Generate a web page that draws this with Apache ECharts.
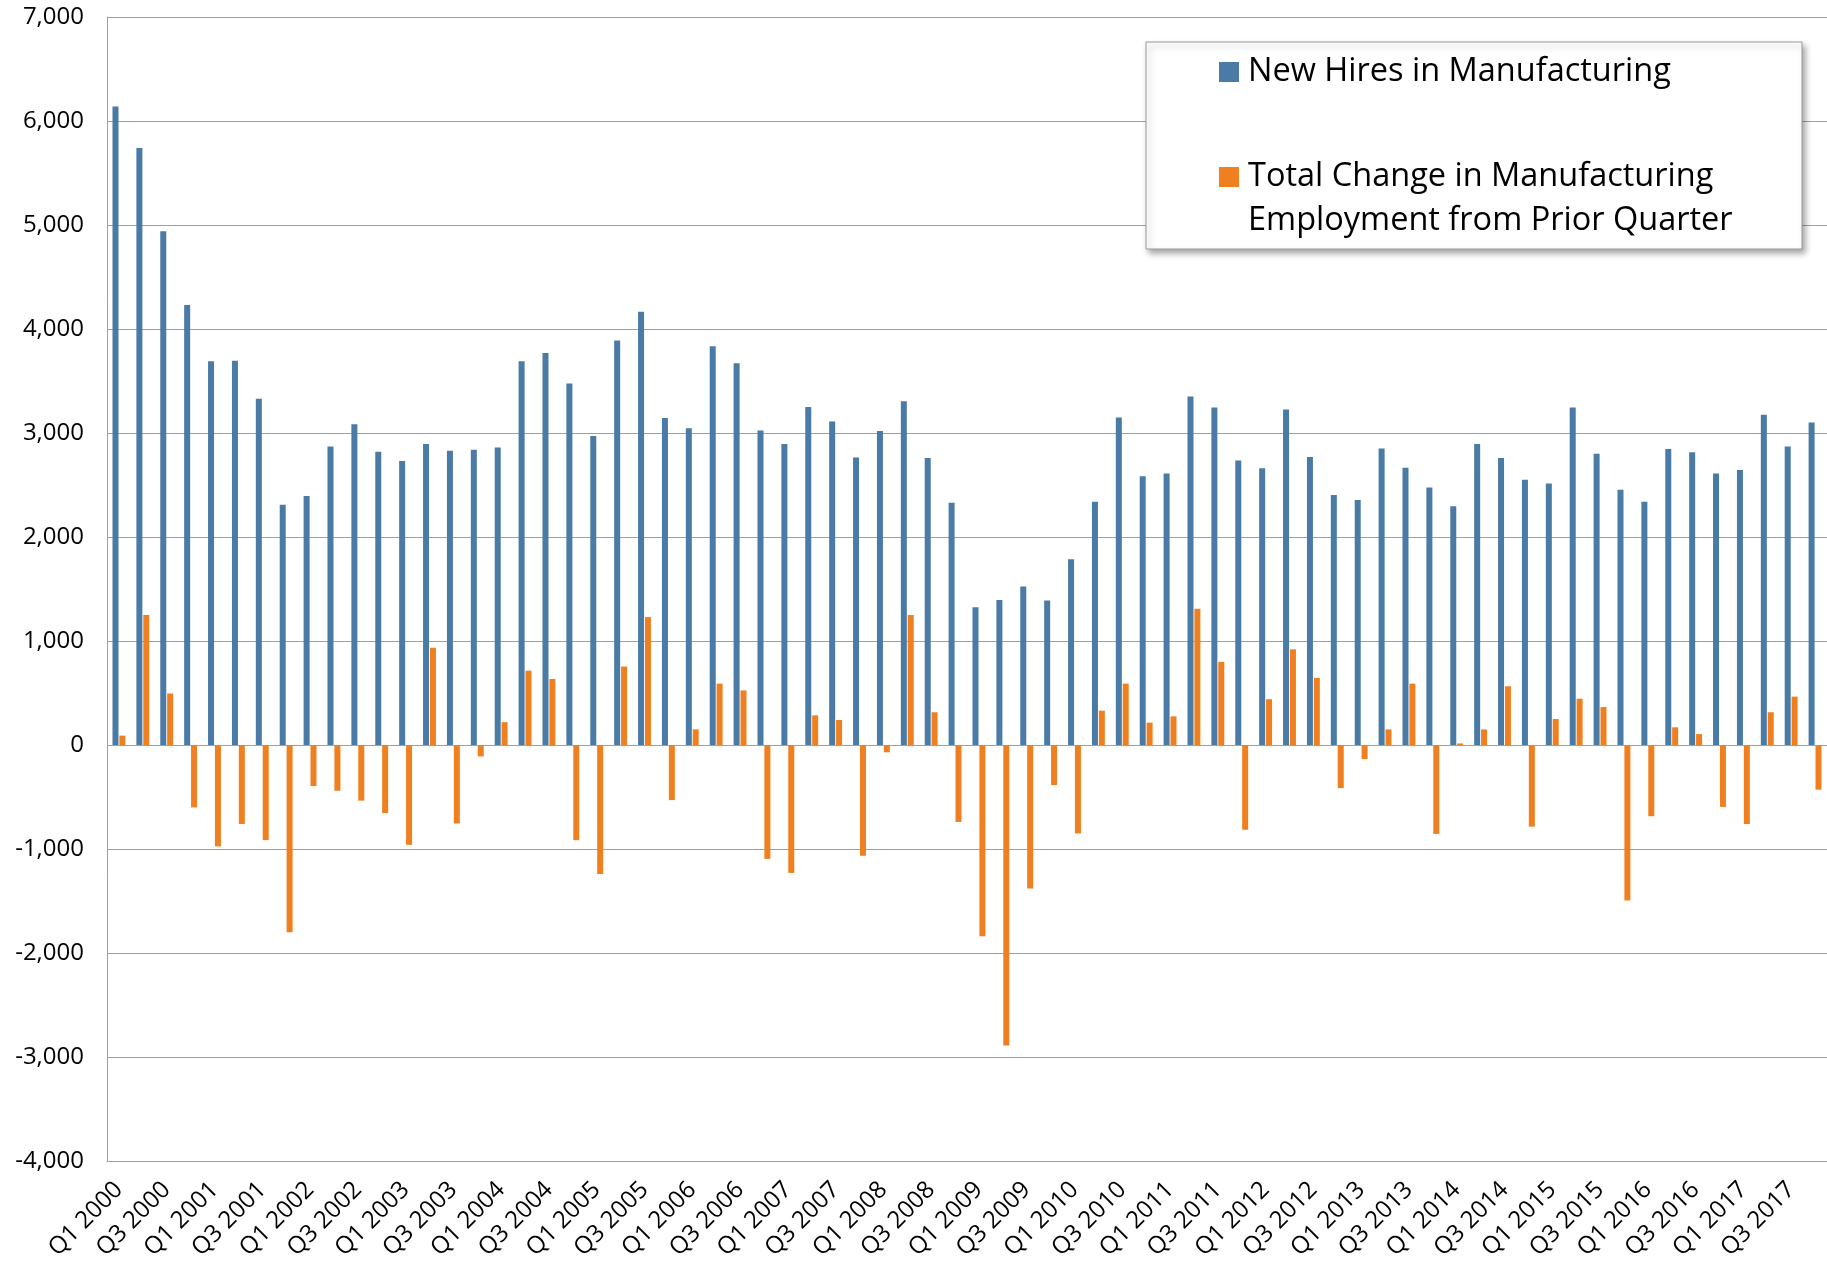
<!DOCTYPE html>
<html>
<head>
<meta charset="utf-8">
<script src="https://cdn.jsdelivr.net/npm/echarts@6/dist/echarts.min.js"></script>
<style>
  html, body { margin: 0; padding: 0; background: #fff; overflow: hidden; }
  #chart { width: 1827px; height: 1263px; }
</style>
</head>
<body>
<div id="chart"></div>
<script>
// quarters Q1 2000 .. Q4 2017
const years = [2000, 2001, 2002, 2003, 2004, 2005, 2006, 2007, 2008,
  2009, 2010, 2011, 2012, 2013, 2014, 2015, 2016, 2017]
const quarters = ['Q1', 'Q2', 'Q3', 'Q4']
const categories = []
years.forEach(y => quarters.forEach(q => categories.push(q + ' ' + y)))

const seriesNames = [
  'New Hires in Manufacturing',
  'Total Change in Manufacturing Employment from Prior Quarter'
]

const newHires = [
  6140, 5740, 4940, 4230, 3690, 3695, 3330, 2310,
  2395, 2870, 3085, 2820, 2730, 2895, 2830, 2840,
  2860, 3690, 3770, 3475, 2970, 3890, 4165, 3145,
  3045, 3835, 3670, 3025, 2895, 3250, 3110, 2765,
  3020, 3305, 2760, 2330, 1325, 1395, 1525, 1390,
  1785, 2340, 3150, 2585, 2610, 3350, 3245, 2735,
  2660, 3225, 2770, 2405, 2355, 2850, 2665, 2475,
  2295, 2895, 2760, 2550, 2515, 3245, 2800, 2455,
  2340, 2845, 2815, 2610, 2645, 3175, 2870, 3100
]

const totalChange = [
  90, 1250, 495, -600, -975, -760, -915, -1800,
  -395, -440, -535, -655, -960, 935, -755, -110,
  220, 715, 635, -915, -1240, 755, 1230, -530,
  150, 590, 525, -1095, -1230, 285, 240, -1065,
  -70, 1250, 315, -740, -1840, -2890, -1380, -385,
  -850, 330, 590, 215, 275, 1310, 800, -815,
  440, 920, 645, -415, -135, 150, 590, -855,
  15, 150, 565, -785, 250, 445, 365, -1495,
  -685, 170, 105, -595, -760, 315, 465, -430
]

const yMin = -4000
const yMax = 7000
const yStep = 1000

const colors = ['#4a7aa6', '#f0801f']
const fontFamily = '"Open Sans", "Liberation Sans", sans-serif'

const chart = echarts.init(document.getElementById('chart'), null, { renderer: 'canvas' })

const option = {
  animation: false,
  backgroundColor: '#ffffff',
  color: colors,
  textStyle: { fontFamily: fontFamily, color: '#000' },
  grid: { left: 107, top: 17, width: 1728, height: 1144 },
  // legend frame
  graphic: [{
    type: 'rect',
    z: 10,
    shape: { x: 1146, y: 42, width: 656, height: 207 },
    style: {
      fill: '#ffffff',
      stroke: '#9a9a9a',
      lineWidth: 1,
      shadowBlur: 6,
      shadowOffsetX: 3,
      shadowOffsetY: 4,
      shadowColor: 'rgba(0,0,0,0.35)'
    }
  }],
  legend: {
    z: 20,
    orient: 'vertical',
    left: 1219,
    top: 50,
    padding: 0,
    itemWidth: 20,
    itemHeight: 20,
    itemGap: 17,
    icon: 'rect',
    selectedMode: false,
    textStyle: { fontFamily: fontFamily, fontSize: 32.5, lineHeight: 44, color: '#000', padding: [0, 0, 0, 4] },
    // blank first line keeps the square level with the first text line
    formatter: name => name === seriesNames[1]
      ? '\nTotal Change in Manufacturing\nEmployment from Prior Quarter'
      : name,
    data: seriesNames
  },
  xAxis: {
    type: 'category',
    data: categories,
    axisLine: { show: true, onZero: false, lineStyle: { color: '#a0a0a0', width: 1 } },
    axisTick: { show: false },
    axisLabel: {
      interval: 1,
      rotate: 45,
      margin: 25,
      fontSize: 24,
      color: '#000',
      fontFamily: fontFamily
    },
    splitLine: { show: false }
  },
  yAxis: {
    type: 'value',
    min: yMin,
    max: yMax,
    interval: yStep,
    axisLine: { show: true, lineStyle: { color: '#a0a0a0', width: 1 } },
    axisTick: { show: false },
    axisLabel: {
      margin: 23,
      fontSize: 24,
      color: '#000',
      fontFamily: fontFamily,
      formatter: v => v.toLocaleString('en-US')
    },
    splitLine: { show: true, lineStyle: { color: '#a0a0a0', width: 1 } }
  },
  series: [
    {
      name: seriesNames[0],
      type: 'bar',
      data: newHires,
      barWidth: 6,
      barGap: '15%',
      itemStyle: { color: colors[0] }
    },
    {
      name: seriesNames[1],
      type: 'bar',
      data: totalChange,
      barWidth: 6,
      itemStyle: { color: colors[1] }
    }
  ]
}

chart.setOption(option)
</script>
</body>
</html>
